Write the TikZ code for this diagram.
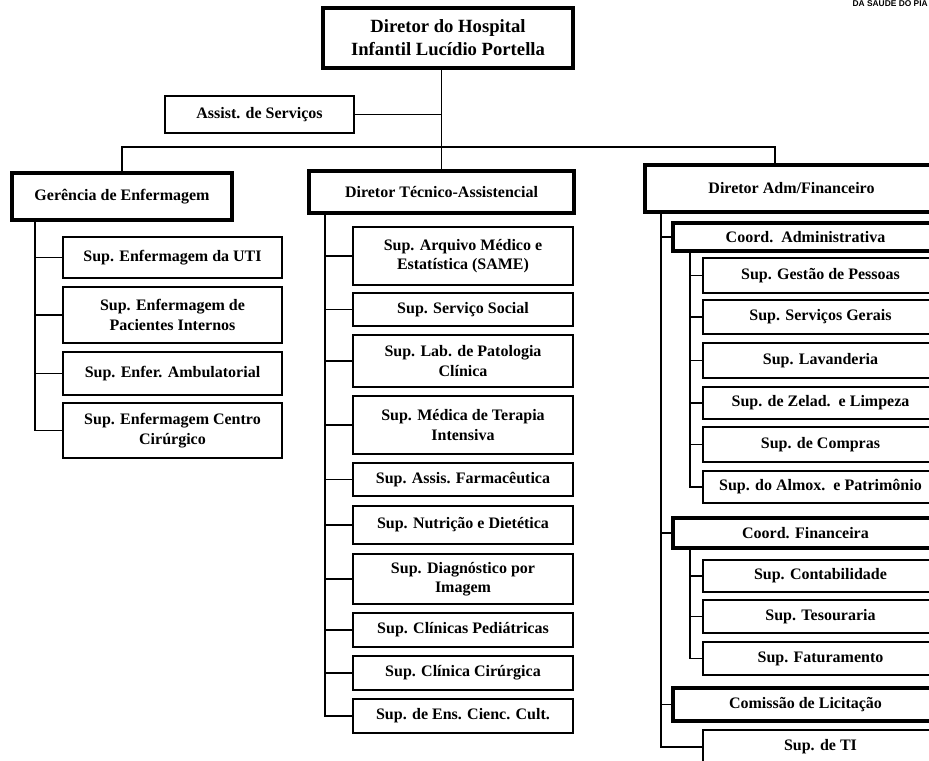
\documentclass[tikz,border=0pt]{standalone}
\usepackage{fontspec}
\setmainfont{Liberation Serif}
\setsansfont{Liberation Sans}
\usepackage{tikz}

\tikzset{
  unit/.style={draw, rectangle, line width=1.5pt, inner sep=1pt, align=center,
    font=\bfseries\fontsize{12}{14.5}\selectfont},
  head/.style={unit, line width=3pt},
  wh/.style 2 args={minimum width=#1*0.75pt, minimum height=#2*0.75pt},
  link/.style={line width=1pt},
}

\begin{document}
\begin{tikzpicture}[x=0.75pt, y=-0.75pt]
        \path[use as bounding box] (0,0) rectangle (929,761);
        \clip (0,0) rectangle (929,761);

        % header fragment
        \node[anchor=east, inner sep=0pt, font=\sffamily\bfseries\fontsize{6.3}{7}\selectfont] (sesapi) at (928,4) {DA SAUDE DO PIA};

        % Define top boxes
        \node[head, wh={250}{60}, font=\bfseries\fontsize{14}{17.3}\selectfont] (dir) at (448,38) {Diretor do Hospital\\Infantil Lucídio Portella};
        \node[unit, wh={189}{37}] (assist) at (259.5,114.5) {Assist. de Serviços};

        % Define second level
        \node[head, wh={220}{47}] (ger) at (122,196.5) {Gerência de Enfermagem};
        \node[head, wh={265}{42}] (tec) at (441.5,192) {Diretor Técnico-Assistencial};
        \node[head, wh={293}{47}] (adm) at (791.5,188.5) {Diretor Adm/Financeiro};

        \coordinate (bus) at (775,147);
        \draw[link] (dir.south -| tec.north) -- (tec.north);
        \draw[link] (assist.east) -- (assist.east -| tec.north);
        \draw[link] (ger.north) |- (bus) -- (bus |- adm.north);

        % Gerencia de Enfermagem
        \node[unit, wh={219}{41}] (ge1) at (172.5,257.5) {Sup. Enfermagem da UTI};
        \node[unit, wh={219}{56}] (ge2) at (172.5,315) {Sup. Enfermagem de\\Pacientes Internos};
        \node[unit, wh={219}{43}] (ge3) at (172.5,373.5) {Sup. Enfer. Ambulatorial};
        \node[unit, wh={219}{55}] (ge4) at (172.5,430.5) {Sup. Enfermagem Centro\\Cirúrgico};

        \coordinate (geT) at (35,0);
        \draw[link] (ger.south -| geT) |- (ge4.west);
        \draw[link] (ge1.west -| geT) -- (ge1.west);
        \draw[link] (ge2.west -| geT) -- (ge2.west);
        \draw[link] (ge3.west -| geT) -- (ge3.west);

        % Diretor Tecnico-Assistencial
        \node[unit, wh={220}{58}] (te1) at (463,256) {Sup. Arquivo Médico e\\Estatística (SAME)};
        \node[unit, wh={220}{33}] (te2) at (463,309.5) {Sup. Serviço Social};
        \node[unit, wh={220}{52}] (te3) at (463,361) {Sup. Lab. de Patologia\\Clínica};
        \node[unit, wh={220}{58}] (te4) at (463,425) {Sup. Médica de Terapia\\Intensiva};
        \node[unit, wh={220}{33}] (te5) at (463,479.5) {Sup. Assis. Farmacêutica};
        \node[unit, wh={220}{38}] (te6) at (463,525) {Sup. Nutrição e Dietética};
        \node[unit, wh={220}{50}] (te7) at (463,579) {Sup. Diagnóstico por\\Imagem};
        \node[unit, wh={220}{34}] (te8) at (463,630) {Sup. Clínicas Pediátricas};
        \node[unit, wh={220}{34}] (te9) at (463,673) {Sup. Clínica Cirúrgica};
        \node[unit, wh={220}{34}] (te10) at (463,716) {Sup. de Ens. Cienc. Cult.};

        \coordinate (teT) at (325,0);
        \draw[link] (tec.south -| teT) |- (te10.west);
        \draw[link] (te1.west -| teT) -- (te1.west);
        \draw[link] (te2.west -| teT) -- (te2.west);
        \draw[link] (te3.west -| teT) -- (te3.west);
        \draw[link] (te4.west -| teT) -- (te4.west);
        \draw[link] (te5.west -| teT) -- (te5.west);
        \draw[link] (te6.west -| teT) -- (te6.west);
        \draw[link] (te7.west -| teT) -- (te7.west);
        \draw[link] (te8.west -| teT) -- (te8.west);
        \draw[link] (te9.west -| teT) -- (te9.west);

        % Diretor Adm/Financeiro
        \node[head, wh={265}{28}] (cadm) at (805.5,237) {Coord.~~Administrativa};
        \node[unit, wh={235}{35}] (ad1) at (820.5,275.5) {Sup. Gestão de Pessoas};
        \node[unit, wh={235}{34}] (ad2) at (820.5,317) {Sup. Serviços Gerais};
        \node[unit, wh={235}{35}] (ad3) at (820.5,360.5) {Sup. Lavanderia};
        \node[unit, wh={235}{32}] (ad4) at (820.5,403) {Sup. de Zelad.~~e Limpeza};
        \node[unit, wh={235}{35}] (ad5) at (820.5,444.5) {Sup. de Compras};
        \node[unit, wh={235}{32}] (ad6) at (820.5,487) {Sup. do Almox.~~e Patrimônio};

        \node[head, wh={265}{30}] (cfin) at (805.5,533) {Coord. Financeira};
        \node[unit, wh={235}{32}] (fi1) at (820.5,576) {Sup. Contabilidade};
        \node[unit, wh={235}{33}] (fi2) at (820.5,616.5) {Sup. Tesouraria};
        \node[unit, wh={235}{33}] (fi3) at (820.5,658.5) {Sup. Faturamento};

        \node[head, wh={265}{33}] (clic) at (805.5,704.5) {Comissão de Licitação};
        \node[unit, wh={235}{34}] (sti) at (820.5,747) {Sup. de TI};

        \coordinate (amT) at (661,0);
        \coordinate (caT) at (690,0);
        \draw[link] (adm.south -| amT) |- (sti.west);
        \draw[link] (cadm.west -| amT) -- (cadm.west);
        \draw[link] (cfin.west -| amT) -- (cfin.west);
        \draw[link] (clic.west -| amT) -- (clic.west);

        \draw[link] (cadm.south -| caT) |- (ad6.west);
        \draw[link] (ad1.west -| caT) -- (ad1.west);
        \draw[link] (ad2.west -| caT) -- (ad2.west);
        \draw[link] (ad3.west -| caT) -- (ad3.west);
        \draw[link] (ad4.west -| caT) -- (ad4.west);
        \draw[link] (ad5.west -| caT) -- (ad5.west);

        \draw[link] (cfin.south -| caT) |- (fi3.west);
        \draw[link] (fi1.west -| caT) -- (fi1.west);
        \draw[link] (fi2.west -| caT) -- (fi2.west);
\end{tikzpicture}
\end{document}
